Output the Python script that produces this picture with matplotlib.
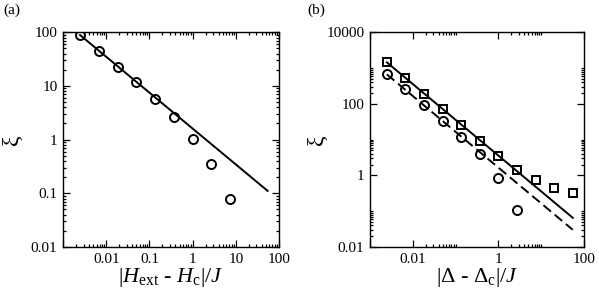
import numpy as np
import matplotlib
matplotlib.use("Agg")
import matplotlib.pyplot as plt
from matplotlib.ticker import FixedLocator, NullFormatter, FixedFormatter

plt.rcParams['font.family'] = ['Liberation Serif', 'DejaVu Serif']
plt.rcParams['mathtext.fontset'] = 'custom'
plt.rcParams['mathtext.rm'] = 'Liberation Serif'
plt.rcParams['mathtext.it'] = 'Liberation Serif:italic'

# ---- Panel (a) data ----
a_x = np.exp([-6, -5, -4, -3, -2, -1, 0, 1, 2])
a_xi = [89, 45, 22.8, 11.7, 5.6, 2.6, 1.05, 0.35, 0.08]
a_fit_x = [np.exp(-6), np.exp(4)]
a_fit_y = [89, 0.111]

# ---- Panel (b) data ----
b_circ_x = np.exp([-6, -5, -4, -3, -2, -1, 0, 1])
b_circ_y = [680, 253, 92, 33, 11.9, 3.9, 0.85, 0.105]
b_sq_x = np.exp([-6, -5, -4, -3, -2, -1, 0, 1, 2, 3, 4])
b_sq_y = [1445, 514, 187, 70, 25.3, 9.2, 3.43, 1.39, 0.73, 0.455, 0.32]
b_solid_x = [np.exp(-6), np.exp(4)]
b_solid_y = [1444, 0.0656]
b_dash_x = [np.exp(-6), np.exp(4)]
b_dash_y = [668, 0.0303]

# ticks
a_xticks = [1e-3, 1e-2, 1e-1, 1, 10, 100]
a_xticklabels = ['', '0.01', '0.1', '1', '10', '100']
a_yticks = [0.01, 0.1, 1, 10, 100]
a_yticklabels = ['0.01', '0.1', '1', '10', '100']
b_xticks = [1e-3, 1e-2, 1, 100]
b_xticklabels = ['', '0.01', '1', '100']
b_yticks = [0.01, 1, 100, 10000]
b_yticklabels = ['0.01', '1', '100', '10000']

W, H = 599, 296
fig = plt.figure(figsize=(W / 100, H / 100), dpi=100)

def px_axes(l, r, t, b):
    return fig.add_axes([l / W, (H - b) / H, (r - l) / W, (b - t) / H])

def style(ax):
    for s in ax.spines.values():
        s.set_linewidth(1.0)
    ax.tick_params(which='both', direction='in', top=True, right=True,
                   labelsize=11, pad=4, width=0.9)
    ax.tick_params(which='major', length=5)
    ax.tick_params(which='minor', length=2.5)

# Panel (a)
ax1 = px_axes(63, 279, 32.3, 247)
ax1.set_xscale('log'); ax1.set_yscale('log')
ax1.set_xlim(1e-3, 100); ax1.set_ylim(0.01, 100)
ax1.plot(a_fit_x, a_fit_y, color='black', lw=1.4)
ax1.plot(a_x, a_xi, 'o', mfc='none', mec='black', ms=6.5, mew=1.4)
ax1.xaxis.set_major_locator(FixedLocator(a_xticks))
ax1.xaxis.set_major_formatter(FixedFormatter(a_xticklabels))
ax1.yaxis.set_major_locator(FixedLocator(a_yticks))
ax1.yaxis.set_major_formatter(FixedFormatter(a_yticklabels))
ax1.xaxis.set_minor_locator(FixedLocator([k * d for d in a_xticks[:-1] for k in range(2, 10)]))
ax1.yaxis.set_minor_locator(FixedLocator([k * d for d in a_yticks[:-1] for k in range(2, 10)]))
ax1.xaxis.set_minor_formatter(NullFormatter())
ax1.yaxis.set_minor_formatter(NullFormatter())
style(ax1)
ax1.set_xlabel(r'|$H_\mathrm{ext}$ - $H_\mathrm{c}$|/$J$', fontsize=16, labelpad=0)
ax1.set_ylabel('ξ', fontsize=17, labelpad=6)

# Panel (b)
ax2 = px_axes(370, 584, 32.3, 247)
ax2.set_xscale('log'); ax2.set_yscale('log')
ax2.set_xlim(1e-3, 100); ax2.set_ylim(0.01, 10000)
ax2.plot(b_solid_x, b_solid_y, color='black', lw=1.4)
ax2.plot(b_dash_x, b_dash_y, color='black', lw=1.4, linestyle=(0, (5, 2.5)))
ax2.plot(b_sq_x, b_sq_y, 's', mfc='none', mec='black', ms=6.2, mew=1.4)
ax2.plot(b_circ_x, b_circ_y, 'o', mfc='none', mec='black', ms=6.5, mew=1.4)
ax2.xaxis.set_major_locator(FixedLocator(b_xticks))
ax2.xaxis.set_major_formatter(FixedFormatter(b_xticklabels))
ax2.yaxis.set_major_locator(FixedLocator(b_yticks))
ax2.yaxis.set_major_formatter(FixedFormatter(b_yticklabels))
ax2.xaxis.set_minor_locator(FixedLocator([k * d for d in b_xticks[1:-1] for k in range(2, 11)]))
ax2.yaxis.set_minor_locator(FixedLocator([k * d for d in b_yticks[:-1] for k in range(2, 11)]))
ax2.xaxis.set_minor_formatter(NullFormatter())
ax2.yaxis.set_minor_formatter(NullFormatter())
style(ax2)
ax2.set_xlabel(r'|Δ - Δ$_\mathrm{c}$|/$J$', fontsize=16, labelpad=0)
ax2.set_ylabel('ξ', fontsize=17, labelpad=-1)

fig.text(3 / W, 1 - 4 / H, '(a)', fontsize=11, va='top', ha='left')
fig.text(307 / W, 1 - 4 / H, '(b)', fontsize=11, va='top', ha='left')

fig.savefig('out.png', dpi=100)
